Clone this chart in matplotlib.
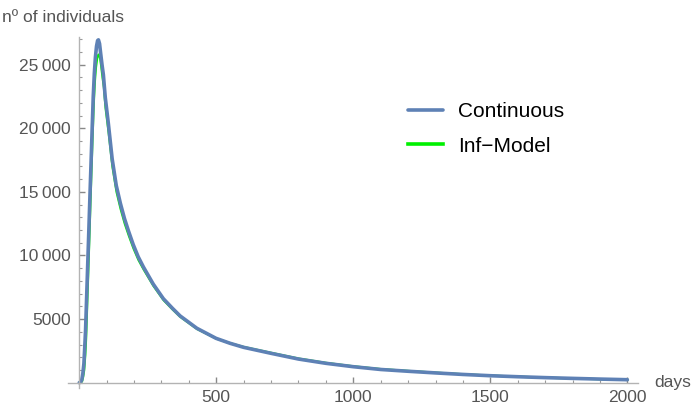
import matplotlib
matplotlib.use("Agg")
import matplotlib.pyplot as plt
from matplotlib.ticker import MultipleLocator, FuncFormatter

plt.rcParams["font.family"] = ["Liberation Sans", "DejaVu Sans"]

# Data
days_cont = [0, 5, 9, 13, 17, 20, 23, 27, 31, 35, 39, 43, 47, 51, 55, 59, 63, 67, 70, 74, 78, 83, 88, 95, 106, 120, 135, 150, 165, 180, 197, 215, 234, 270, 307, 340, 368, 429, 499, 550, 600, 700, 800, 900, 1000, 1100, 1200, 1300, 1400, 1500, 1600, 1700, 1800, 1900, 2000]
vals_cont = [0, 50, 212, 700, 1525, 2800, 4142, 6760, 9400, 12000, 14700, 17270, 19900, 22480, 24300, 25600, 26450, 26900, 26950, 26650, 25900, 25000, 24200, 22400, 20400, 17600, 15500, 14100, 12900, 11900, 10850, 9900, 9100, 7750, 6600, 5850, 5250, 4280, 3490, 3100, 2780, 2310, 1860, 1525, 1258, 1040, 900, 770, 650, 550, 470, 400, 340, 285, 236]

days_inf = [0, 6, 10, 14, 18, 22, 25, 29, 33, 37, 41, 45, 49, 53, 57, 61, 65, 69, 72, 76, 80, 85, 90, 96, 107, 121, 136, 151, 166, 181, 198, 216, 235, 271, 308, 341, 369, 430, 500, 550, 600, 700, 800, 900, 1000, 1100, 1200, 1300, 1400, 1500, 1600, 1700, 1800, 1900, 2000]
vals_inf = [0, 30, 100, 450, 1000, 2200, 3500, 6200, 8800, 11500, 14300, 17000, 19600, 22000, 23700, 24800, 25450, 25750, 25800, 25550, 24900, 24000, 23200, 21600, 19700, 17000, 15000, 13650, 12500, 11550, 10550, 9650, 8900, 7600, 6480, 5750, 5170, 4220, 3470, 3110, 2810, 2350, 1900, 1560, 1290, 1070, 925, 790, 665, 560, 475, 400, 335, 278, 225]

series_labels = ["Continuous", "Inf\u2212Model"]
x_ticks = [500, 1000, 1500, 2000]
y_ticks = [5000, 10000, 15000, 20000, 25000]

W, H = 694, 412
fig = plt.figure(figsize=(W / 100, H / 100), dpi=100)
left, right = 68.3 / W, 638.3 / W
bottom, top = (H - 387.8) / H, (H - 37.3) / H
ax = fig.add_axes([left, bottom, right - left, top - bottom])

blue = "#5E81B5"
green = "#00F000"
ax.plot(days_cont, vals_cont, color=blue, lw=2.6, label=series_labels[0], zorder=2, solid_capstyle="round")
ax.plot(days_inf, vals_inf, color=green, lw=1.6, label=series_labels[1], zorder=1)

ax.set_xlim(-40, 2040)
ax.set_ylim(-400, 27150)

for s in ["top", "right"]:
    ax.spines[s].set_visible(False)
ax.spines["left"].set_position(("data", 0))
ax.spines["bottom"].set_position(("data", 0))
for s in ["left", "bottom"]:
    ax.spines[s].set_color("#b3b3b3")
    ax.spines[s].set_linewidth(1.0)

ax.set_xticks(x_ticks)
ax.set_yticks(y_ticks)
ax.xaxis.set_minor_locator(MultipleLocator(100))
ax.yaxis.set_minor_locator(MultipleLocator(1000))
fmt = FuncFormatter(lambda v, p: (f"{int(v):,}".replace(",", "\u2009") if v >= 10000 else f"{int(v)}"))
ax.yaxis.set_major_formatter(fmt)
ax.tick_params(which="major", direction="in", length=4.5, width=1.0, color="#888888",
               labelcolor="#555555", labelsize=12.5, pad=5)
ax.tick_params(axis="y", which="major", pad=6)
ax.tick_params(which="minor", direction="in", length=2.5, width=0.8, color="#999999")

fig.text(2 / W, 1 - 17 / H, "nº of individuals", fontsize=12.5, color="#555555",
         va="center", ha="left")
fig.text(654 / W, 1 - 383 / H, "days", fontsize=12.5, color="#555555",
         va="center", ha="left")

leg = ax.legend(loc="upper left", bbox_to_anchor=(408 / W, 1 - 102 / H),
                bbox_transform=fig.transFigure, frameon=False, borderpad=0,
                borderaxespad=0, prop={"size": 15},
                handlelength=1.7, handletextpad=0.72, labelspacing=0.75)
for h in leg.get_lines():
    h.set_linewidth(2.6)

fig.savefig("out.png", dpi=100)
